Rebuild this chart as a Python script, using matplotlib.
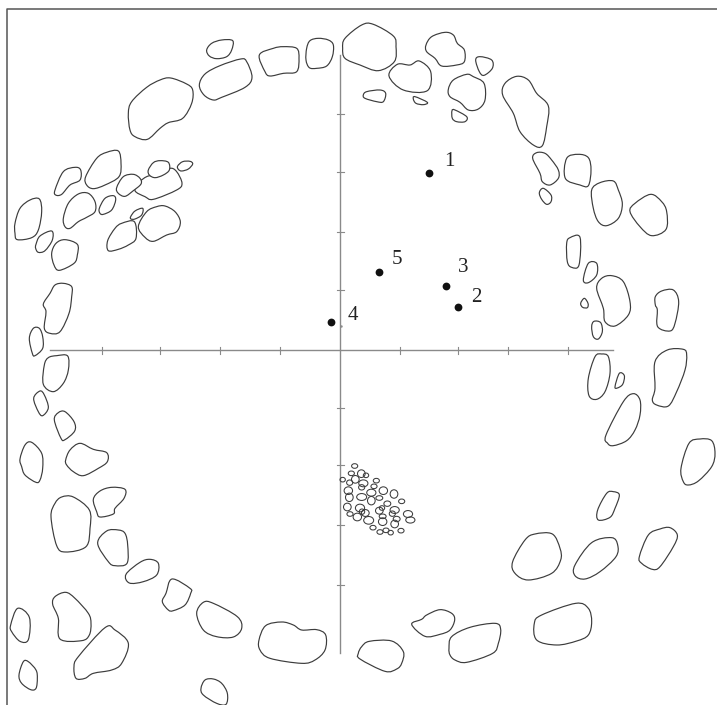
import matplotlib
matplotlib.use("Agg")
import matplotlib.pyplot as plt
from matplotlib.patches import PathPatch, Ellipse
from matplotlib.path import Path

top_left = [
 [(420,545),(445,528),(480,525),(510,505),(530,515),(546,550),(530,570),(460,598),(435,590),(405,572)],
 [(620,150),(635,130),(665,120),(698,122),(695,150),(680,170),(650,176),(628,168)],
 [(598,255),(615,222),(660,197),(722,177),(740,185),(756,232),(735,262),(665,292),(640,300),(612,285)],
 [(778,165),(820,145),(850,140),(890,145),(897,175),(890,215),(850,220),(810,228),(795,215)],
 [(920,145),(930,122),(955,115),(985,120),(1000,135),(997,170),(980,198),(950,205),(928,203),(918,180)],
 [(385,340),(395,305),(440,262),(480,240),(512,234),(560,252),(578,270),(575,310),(548,355),(505,368),(480,385),(442,418),(405,410),(390,390)],
 [(165,570),(190,515),(225,502),(242,510),(240,540),(210,555),(185,583),(167,585)],
 [(257,530),(290,475),(320,457),(355,453),(363,490),(357,530),(315,555),(280,566),(260,555)],
 [(350,563),(370,530),(400,523),(420,535),(423,552),(400,572),(375,589),(355,580)],
 [(445,510),(460,488),(480,482),(505,487),(508,510),(490,525),(465,533),(448,525)],
 [(533,498),(548,485),(570,484),(578,492),(565,507),(545,513),(535,508)],
 [(190,655),(205,610),(235,582),(265,580),(285,605),(285,635),(260,652),(235,665),(210,685),(195,680)],
 [(298,625),(315,595),(340,587),(347,600),(335,630),(310,643),(300,640)],
 [(45,670),(60,625),(90,600),(118,597),(125,635),(115,690),(95,713),(52,719),(45,700)],
 [(108,733),(120,708),(155,693),(157,720),(135,752),(115,757),(107,745)],
 [(155,760),(168,730),(195,719),(232,733),(232,765),(222,790),(178,811),(162,795)],
 [(392,650),(405,633),(428,625),(425,645),(405,657),(393,657)],
 [(323,722),(345,685),(365,670),(403,665),(408,715),(385,735),(355,748),(325,752)],
 [(415,680),(440,635),(470,620),(495,618),(525,635),(541,665),(530,695),(500,705),(460,724),(435,712)],
 [(130,912),(150,880),(165,855),(190,850),(215,860),(215,890),(207,940),(180,995),(150,1000),(133,985),(138,935)],
 [(88,1015),(100,985),(118,985),(128,1010),(128,1045),(105,1067),(97,1060)],
]
top_right = [
 [(8,145),(15,115),(65,75),(100,73),(160,108),(168,140),(163,185),(115,212),(60,195),(15,175)],
 [(147,228),(172,193),(210,195),(238,183),(272,215),(262,272),(190,270)],
 [(258,135),(275,110),(315,97),(340,105),(352,130),(373,150),(373,185),(350,195),(305,198),(285,175),(260,155)],
 [(407,180),(420,170),(455,180),(457,205),(432,226),(418,215)],
 [(325,268),(340,240),(380,223),(400,230),(432,250),(435,300),(415,327),(385,330),(360,307),(330,290)],
 [(70,285),(80,275),(120,270),(137,280),(130,305),(110,305),(75,295)],
 [(220,297),(225,290),(262,307),(250,314),(228,310)],
 [(336,332),(345,330),(380,350),(375,365),(350,365),(337,355)],
 [(488,285),(495,250),(530,229),(565,240),(590,280),(625,318),(620,380),(607,437),(580,435),(540,395),(520,340)],
 [(578,475),(590,458),(615,460),(635,480),(655,510),(655,535),(630,555),(607,545),(600,520)],
 [(680,475),(715,463),(745,473),(753,510),(745,557),(720,555),(676,535)],
 [(598,578),(610,565),(633,585),(633,605),(620,613),(605,598)],
 [(755,570),(780,548),(820,543),(835,570),(847,612),(835,655),(800,677),(775,665),(760,625)],
 [(870,635),(885,610),(932,583),(965,605),(980,635),(978,688),(935,707),(900,680)],
 [(680,730),(690,713),(720,712),(717,795),(695,802),(682,785)],
 [(730,840),(745,790),(770,790),(770,825),(745,848)],
 [(770,865),(785,835),(815,827),(850,845),(870,905),(865,945),(825,978),(795,965),(790,925)],
 [(722,910),(733,895),(744,910),(742,923),(728,922)],
 [(755,980),(762,964),(782,968),(787,995),(775,1017),(760,1010)],
 [(946,890),(965,873),(1000,870),(1016,905),(1005,970),(990,993),(953,980),(952,930),(946,915)],
]
bottom_left = [
 [(133,60),(145,38),(170,32),(203,33),(205,75),(190,115),(160,140),(130,118)],
 [(101,160),(120,138),(133,150),(145,188),(128,212),(115,200)],
 [(163,225),(175,203),(195,200),(222,230),(224,258),(195,284),(183,280)],
 [(60,342),(75,300),(95,292),(125,325),(128,370),(120,405),(108,412),(75,390),(65,365)],
 [(197,345),(210,315),(240,295),(280,313),(320,323),(322,350),(295,370),(250,392),(220,380),(200,360)],
 [(280,463),(300,438),(335,427),(375,433),(372,460),(345,490),(340,507),(300,516),(290,500)],
 [(153,515),(165,475),(185,456),(220,456),(268,495),(270,550),(258,605),(197,621),(170,602)],
 [(293,595),(320,558),(355,555),(375,565),(383,600),(381,655),(345,662),(325,650)],
 [(378,688),(420,652),(450,643),(475,655),(470,690),(430,710),(388,714)],
 [(498,745),(516,702),(570,730),(572,745),(555,780),(520,797),(505,795),(487,770)],
 [(590,805),(610,772),(640,775),(712,815),(725,850),(700,876),(650,875),(610,855)],
 [(158,778),(165,755),(197,742),(225,760),(265,805),(273,835),(268,870),(245,887),(180,882),(175,820)],
 [(32,840),(53,790),(88,817),(85,884),(60,889),(35,860)],
 [(222,965),(235,935),(315,848),(345,855),(385,895),(365,955),(335,975),(280,985),(255,1000),(228,1000)],
 [(57,990),(70,950),(85,950),(108,975),(112,1000),(108,1030),(92,1034),(65,1015)],
 [(777,885),(797,842),(845,831),(880,840),(905,855),(950,854),(977,870),(975,915),(945,945),(905,955),(810,940),(780,915)],
 [(603,1030),(615,1005),(640,1002),(665,1015),(682,1045),(678,1078),(650,1075),(610,1050)],
]
bottom_right = [
 [(745,100),(765,35),(785,27),(805,35),(810,85),(795,140),(770,163),(747,152)],
 [(825,125),(838,85),(853,92),(848,118),(832,129)],
 [(945,50),(982,15),(1030,13),(1040,30),(1035,75),(1010,140),(985,183),(950,180),(937,165),(945,130)],
 [(798,270),(850,170),(880,146),(900,165),(900,210),(885,255),(860,287),(820,302),(803,295)],
 [(1023,370),(1047,295),(1080,282),(1115,287),(1125,325),(1115,365),(1075,408),(1045,420),(1030,410)],
 [(773,495),(800,445),(820,440),(838,450),(825,490),(810,517),(775,525)],
 [(518,650),(555,585),(585,567),(637,567),(660,610),(662,645),(635,685),(565,705),(525,685)],
 [(705,660),(755,593),(815,578),(833,600),(828,635),(780,680),(735,702),(705,692)],
 [(898,635),(925,570),(960,552),(990,548),(1012,570),(1000,605),(960,665),(937,673),(905,655)],
 [(583,835),(605,810),(707,775),(745,790),(755,830),(745,870),(710,888),(650,900),(590,885)],
 [(215,838),(245,823),(260,810),(300,794),(335,805),(344,825),(330,855),(300,868),(255,874)],
 [(327,910),(335,875),(390,847),(465,835),(482,853),(475,895),(458,925),(380,952),(345,945),(330,930)],
 [(55,925),(65,905),(88,889),(155,888),(190,920),(185,955),(170,972),(135,979),(60,942)],
]
speckle_x = [44,34,64,78,8,29,46,70,65,109,102,25,28,65,94,94,118,130,162,185,142,22,60,30,52,76,66,118,126,164,157,204,211,170,128,128,164,86,99,120,138,152,183]
speckle_y = [363,385,386,391,404,413,403,415,427,407,424,437,457,456,443,467,459,437,447,469,476,486,489,507,516,504,500,497,489,495,506,507,525,522,514,530,537,526,548,561,556,563,557]
speckle_w = [16,16,20,14,14,16,20,24,16,16,16,22,20,26,24,20,18,22,20,16,18,20,24,16,22,20,14,20,14,24,16,24,24,18,18,22,20,26,16,16,16,14,16]
speckle_h = [12,12,20,12,12,14,20,18,14,12,12,20,22,18,18,22,12,20,22,12,14,20,20,12,20,18,14,18,12,18,14,18,16,14,12,20,20,20,12,12,12,12,12]

point_labels = ["1", "2", "3", "4", "5"]
point_x = [429, 458, 446, 331, 379]
point_y = [173, 307, 286, 322, 272]
label_x = [449, 476, 463, 353, 397]
label_y = [162, 298, 268, 315, 259]

x_ticks = [102, 160, 220, 280, 400, 458, 508, 568]
y_ticks = [114, 172, 232, 290, 408, 465, 525, 585]
origin_x, origin_y = 340, 350
x_span = (50, 613)
y_span = (55, 653)


def smooth_closed(pts, k=0.17):
    """Closed outline drawn as Bezier curves through the read vertices."""
    n = len(pts)
    verts = [pts[0]]
    codes = [Path.MOVETO]
    for i in range(n):
        p0, p1, p2, p3 = pts[i - 1], pts[i], pts[(i + 1) % n], pts[(i + 2) % n]
        verts += [(p1[0] + k * (p2[0] - p0[0]), p1[1] + k * (p2[1] - p0[1])),
                  (p2[0] - k * (p3[0] - p1[0]), p2[1] - k * (p3[1] - p1[1])),
                  p2]
        codes += [Path.CURVE4] * 3
    return Path(verts, codes)


fig = plt.figure(figsize=(7.17, 7.05), dpi=100)
ax = fig.add_axes([0, 0, 1, 1])
ax.set_xlim(0, 717)
ax.set_ylim(705, 0)
ax.axis("off")

axis_c = "#8a8a8a"
ax.plot(x_span, [origin_y] * 2, color=axis_c, lw=1.0, zorder=1)
ax.plot([origin_x] * 2, y_span, color=axis_c, lw=1.0, zorder=1)
for t in x_ticks:
    ax.plot([t, t], [origin_y - 3.5, origin_y + 3.5], color=axis_c, lw=0.8, zorder=1)
for t in y_ticks:
    ax.plot([origin_x - 3.5, origin_x + 3.5], [t, t], color=axis_c, lw=0.8, zorder=1)

# frame: only left and top edges
ax.plot([7, 7, 717], [705, 9, 9], color="#555555", lw=1.1, zorder=1)

line_c = "#3c3c3c"
quadrants = [(top_left, 0, 0), (top_right, 340, 0), (bottom_left, 0, 345), (bottom_right, 340, 345)]
for group, ox, oy in quadrants:
    for outline in group:
        pts = [(ox + x / 3, oy + y / 3) for x, y in outline]
        ax.add_patch(PathPatch(smooth_closed(pts), facecolor="white", edgecolor=line_c,
                               lw=0.85, zorder=2))

for x, y, w, h in zip(speckle_x, speckle_y, speckle_w, speckle_h):
    ax.add_patch(Ellipse((340 + x / 3, 345 + y / 3), 1.15 * w / 3, 1.15 * h / 3, facecolor="none",
                         edgecolor=line_c, lw=0.75, zorder=3))

ax.plot(point_x, point_y, "o", color="#111111", ms=5.6, mew=0, zorder=4)
ax.plot([341], [326], ".", color=axis_c, ms=1.5, zorder=1)
for s, x, y in zip(point_labels, label_x, label_y):
    ax.text(x, y, s, family="Liberation Serif", fontsize=15, color="#222222",
            ha="center", va="center", zorder=5)

fig.savefig("out.png", dpi=100)
